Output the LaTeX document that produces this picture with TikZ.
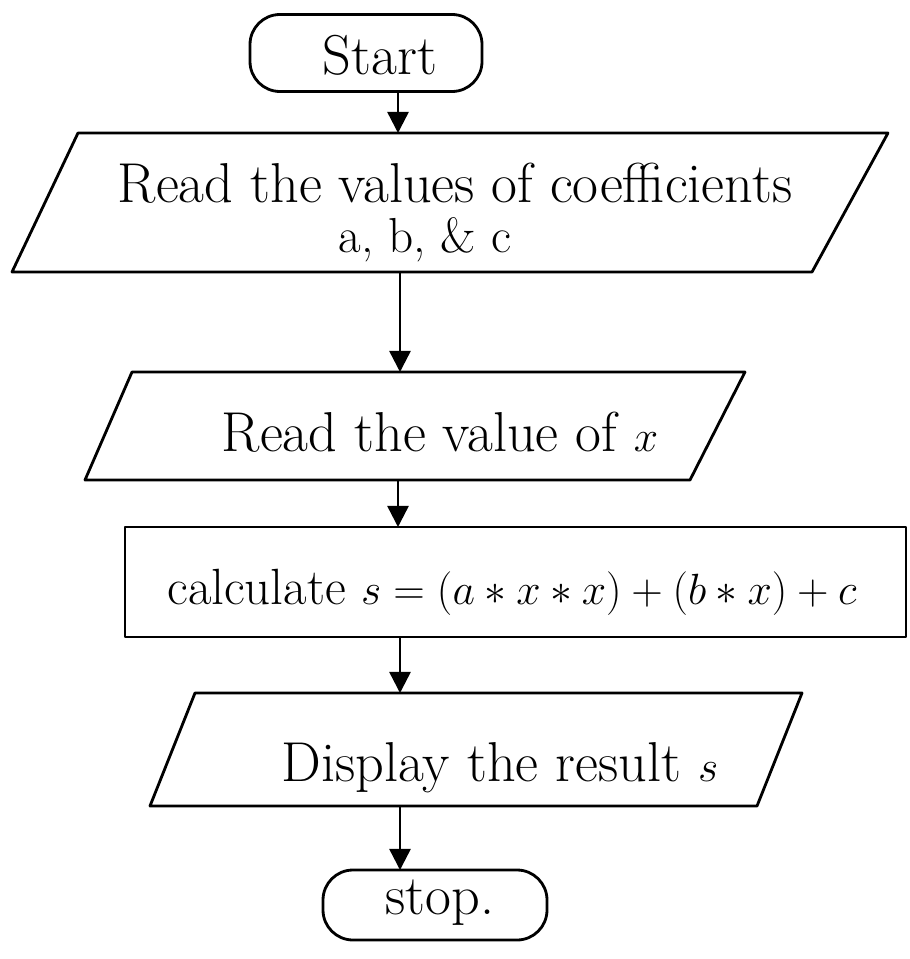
\documentclass[tikz,border=0pt]{standalone}
\usetikzlibrary{arrows.meta}
\begin{document}
\begin{tikzpicture}[x=0.02cm,y=-0.02cm,
  shapeline/.style={line width=1.6pt, line join=round},
  label/.style={font=\fontsize{32}{36}\selectfont, align=center, inner sep=0pt},
  smalllabel/.style={font=\fontsize{28}{32}\selectfont, align=center, inner sep=0pt},
  flow/.style={line width=1.4pt, -{Triangle[width=12pt,length=12pt]}},
  term/.style={shapeline, draw, rounded corners=30*0.02cm, inner sep=0pt}]
\useasboundingbox (0,0) rectangle (909,959);
\fill[white] (0,0) rectangle (909,959);

% Start
\node[term, minimum width=232*0.02cm, minimum height=77*0.02cm] (start) at (366,53) {};
\node[label] (tstart) at (380,55) {Start};

% Input 1
\draw[shapeline] (78,133) -- (888,133) -- (812,272) -- (12,272) -- cycle;
\coordinate (p1top) at (398,133);
\coordinate (p1bot) at (400,272);
\node[label] (t1) at (455,183) {Read the values of coefficients};
\node[smalllabel] (t1b) at (425,240) {a, b, \& c};

% Input 2
\draw[shapeline] (132,372) -- (745,372) -- (690,480) -- (85,480) -- cycle;
\coordinate (p2top) at (400,372);
\coordinate (p2bot) at (398,480);
\node[label] (t2) at (440,432) {Read the value of $x$};

% Process
\node[shapeline, draw, minimum width=781*0.02cm, minimum height=110*0.02cm] (calc) at (515.5,582) {};
\coordinate (calctop) at (398,527);
\coordinate (calcbot) at (400,637);
\node[font=\fontsize{29}{34}\selectfont, inner sep=0pt] (t3) at (512,592) {calculate $s = (a*x*x)+(b*x)+c$};

% Output
\draw[shapeline] (195,693) -- (802,693) -- (757,806) -- (150,806) -- cycle;
\coordinate (p3top) at (400,693);
\coordinate (p3bot) at (400,806);
\node[label] (t4) at (500,768) {Display the result $s$};

% Stop
\node[term, minimum width=224*0.02cm, minimum height=70*0.02cm] (stop) at (435,905) {};
\node[label] (tstop) at (440,903) {stop.};
\coordinate (stoptop) at (400,870);

% Connectors
\draw[flow] (start.south -| p1top) -- (p1top);
\draw[flow] (p1bot) -- (p2top);
\draw[flow] (p2bot) -- (calctop);
\draw[flow] (calcbot) -- (p3top);
\draw[flow] (p3bot) -- (stoptop);
\end{tikzpicture}
\end{document}
